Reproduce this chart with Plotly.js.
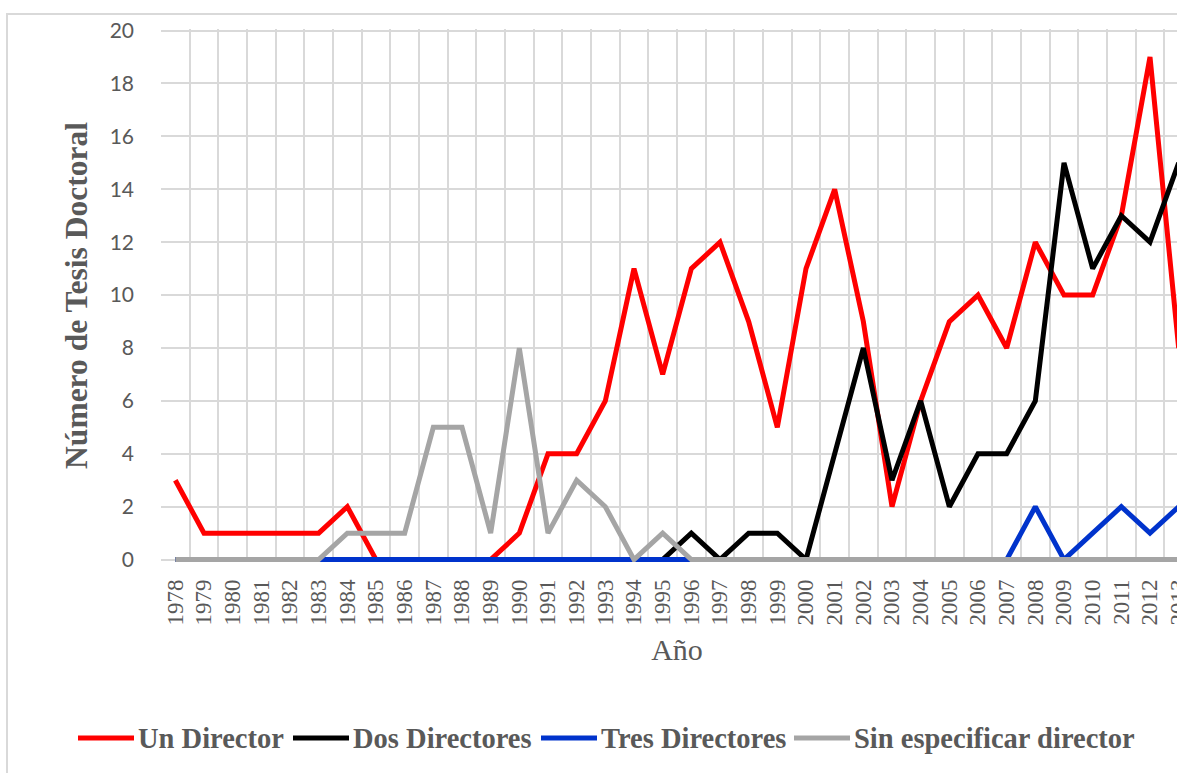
<!DOCTYPE html>
<html>
<head>
<meta charset="utf-8">
<script src="https://cdn.plot.ly/plotly-3.0.1.min.js"></script>
<style>
html, body { margin:0; padding:0; overflow:hidden; background:#fff; width:1177px; height:773px; }
#chart { position:absolute; left:0; top:0; width:1203px; height:773px; }
#frame { position:absolute; left:6px; top:13px; width:1300px; height:900px; border:2px solid #D9D9D9; pointer-events:none; }
</style>
</head>
<body>
<div id="chart"></div>
<div id="frame"></div>
<script>
const years = ["1978","1979","1980","1981","1982","1983","1984","1985","1986","1987","1988","1989","1990","1991","1992","1993","1994","1995","1996","1997","1998","1999","2000","2001","2002","2003","2004","2005","2006","2007","2008","2009","2010","2011","2012","2013"];
const unDirector = [3,1,1,1,1,1,2,0,0,0,0,0,1,4,4,6,11,7,11,12,9,5,11,14,9,2,6,9,10,8,12,10,10,13,19,8];
const dosDirectores = [0,0,0,0,0,0,0,0,0,0,0,0,0,0,0,0,0,0,1,0,1,1,0,4,8,3,6,2,4,4,6,15,11,13,12,15];
const tresDirectores = [0,0,0,0,0,0,0,0,0,0,0,0,0,0,0,0,0,0,0,0,0,0,0,0,0,0,0,0,0,0,2,0,1,2,1,2];
const sinEspecificar = [0,0,0,0,0,0,1,1,1,5,5,1,8,1,3,2,0,1,0,0,0,0,0,0,0,0,0,0,0,0,0,0,0,0,0,0];
const seriesNames = ["Un Director","Dos Directores","Tres Directores","Sin especificar director"];
const seriesColors = ["#FF0000","#000000","#0033CC","#A5A5A5"];
const yTicks = [0,2,4,6,8,10,12,14,16,18,20];

const lw = 5;
const seriesData = [unDirector, dosDirectores, tresDirectores, sinEspecificar];
const traces = seriesData.map((vals, i) => ({type:"scatter", mode:"lines", name:seriesNames[i],
  x:years, y:vals, line:{color:seriesColors[i], width:lw}, hoverinfo:"x+y+name"}));

// page geometry of the plot area (px) for placing the legend outside it
const M = {l:161, r:10, t:29, b:211}, W = 1203, H = 773;
const pw = W - M.l - M.r, ph = H - M.t - M.b;
const px2x = p => (p - M.l) / pw;
const py2y = p => (H - M.b - p) / ph;

const serif = "Liberation Serif";
const legendStarts = [78, 293, 541, 794];
const legendY = 738, lineLen = 56;
const shapes = [], annotations = [];
seriesNames.forEach((n, i) => {
  shapes.push({type:"line", xref:"paper", yref:"paper",
    x0:px2x(legendStarts[i]), x1:px2x(legendStarts[i] + lineLen),
    y0:py2y(legendY), y1:py2y(legendY),
    line:{color:seriesColors[i], width:5}});
  annotations.push({xref:"paper", yref:"paper", x:px2x(legendStarts[i] + lineLen + 2), y:py2y(legendY),
    xanchor:"left", yanchor:"middle", showarrow:false, text:n,
    font:{family:serif, size:28.5, color:"#595959", weight:"bold"}});
});

const layout = {
  width:W, height:H,
  margin:M,
  paper_bgcolor:"#ffffff", plot_bgcolor:"#ffffff",
  font:{family:serif},
  showlegend:false,
  shapes, annotations,
  xaxis:{type:"category", categoryorder:"array", categoryarray:years,
    range:[-0.5, years.length-0.5], tickson:"boundaries",
    showgrid:true, gridcolor:"#D9D9D9", gridwidth:1.5,
    ticks:"", tickangle:-90, ticklabelstandoff:12,
    tickfont:{family:serif, size:23, color:"#595959"},
    showline:false, zeroline:false, fixedrange:true,
    title:{text:"Año", font:{family:serif, size:30, color:"#595959"}, standoff:14}},
  yaxis:{range:[-0.09, 20.06], tickvals:yTicks, ticktext:yTicks.map(String),
    showgrid:true, gridcolor:"#D9D9D9", gridwidth:1.5, zeroline:false, showline:false,
    ticks:"", ticklabelstandoff:26,
    tickfont:{family:"Lato", size:21, color:"#595959"},
    fixedrange:true,
    title:{text:"Número de Tesis Doctoral", font:{family:serif, size:31.5, color:"#595959", weight:"bold"}, standoff:12}}
};
Plotly.newPlot("chart", traces, layout, {displayModeBar:false});
</script>
</body>
</html>
